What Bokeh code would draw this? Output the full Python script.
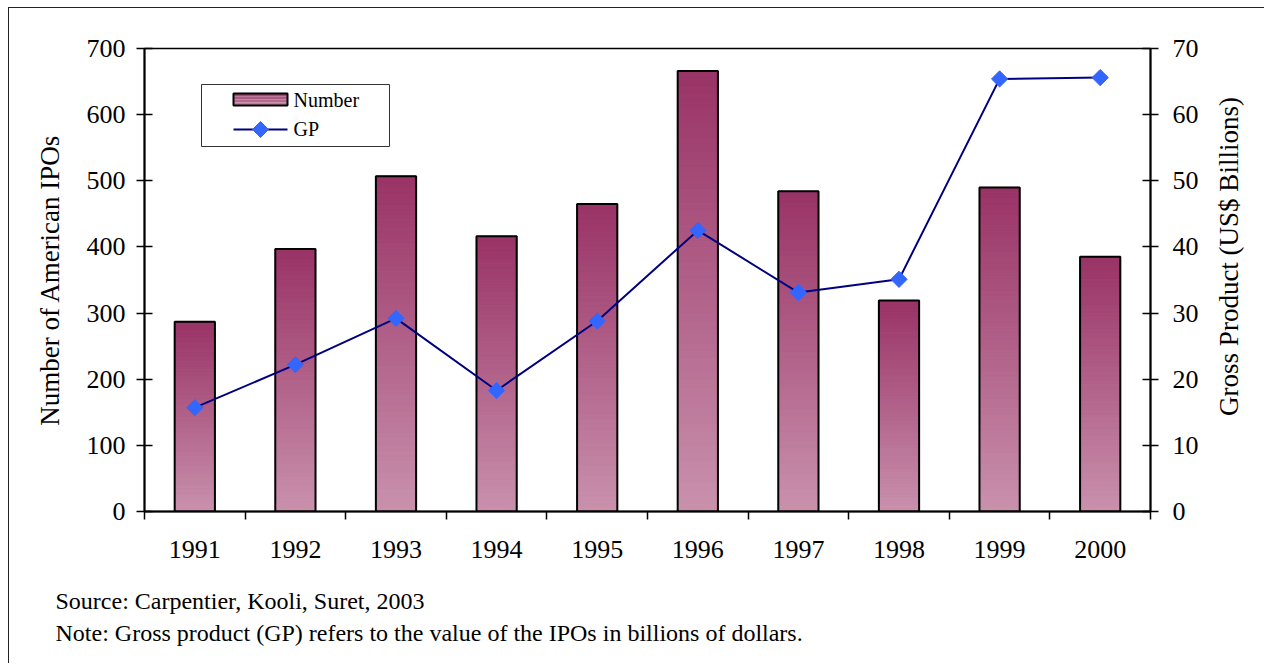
import math
from bokeh.plotting import figure
from bokeh.layouts import row, column
from bokeh.models import (Range1d, LinearAxis, FixedTicker, ColumnDataSource,
                          BoxAnnotation, PolyAnnotation, Label)
from bokeh.embed import file_html
from bokeh.resources import INLINE

# ---- data ----
years = ["1991", "1992", "1993", "1994", "1995", "1996", "1997", "1998", "1999", "2000"]
ipo_counts = [287, 397, 507, 416, 465, 666, 484, 319, 490, 385]
gp_values = [15.7, 22.2, 29.2, 18.3, 28.8, 42.5, 33.1, 35.1, 65.4, 65.6]
left_ticks = [0, 100, 200, 300, 400, 500, 600, 700]
right_ticks = [0, 10, 20, 30, 40, 50, 60, 70]
left_title = "Number of American IPOs"
right_title = "Gross Product (US$ Billions)"
legend_labels = ["Number", "GP"]
source_note = "Source: Carpentier, Kooli, Suret, 2003"
gp_note = "Note: Gross product (GP) refers to the value of the IPOs in billions of dollars."

FONT = "Liberation Serif"
TOP_COL = (153, 51, 102)
BOT_COL = (201, 145, 173)
N_SLICES = 60
H1 = 575      # chart canvas height
H3 = 80       # notes canvas height
S = "screen"

# category slot centres (slot i spans [i, i+1])
x_pos = [i + 0.5 for i in range(len(years))]

p = figure(width=1195, height=H1,
           x_range=Range1d(0, len(years)),
           y_range=Range1d(0, 700),
           x_axis_location=None, y_axis_location=None,
           toolbar_location=None, output_backend="svg",
           min_border_left=135, min_border_right=54,
           min_border_top=40, min_border_bottom=72)
p.extra_y_ranges = {"gp": Range1d(0, 70)}
for g in p.grid:
    g.visible = False
p.outline_line_color = "black"
p.outline_line_width = 1.5
p.background_fill_color = "white"
p.border_fill_color = "white"

# ---- gradient bars (each bar split into thin slices) ----
def grad(t):
    c = tuple(int(round(b * (1 - t) + tp * t)) for b, tp in zip(BOT_COL, TOP_COL))
    return "#%02x%02x%02x" % c

xs, bots, tops, cols = [], [], [], []
for xp, v in zip(x_pos, ipo_counts):
    for i in range(N_SLICES):
        xs.append(xp)
        bots.append(v * i / N_SLICES)
        tops.append(v * (i + 1) / N_SLICES)
        cols.append(grad((i + 0.5) / N_SLICES))
slices = ColumnDataSource(dict(x=xs, bottom=bots, top=tops, color=cols))
p.vbar(x="x", bottom="bottom", top="top", width=0.4, source=slices,
       fill_color="color", line_color="color", line_width=1)
bars = ColumnDataSource(dict(x=x_pos, top=ipo_counts))
p.vbar(x="x", top="top", bottom=0, width=0.4, source=bars,
       fill_color=None, line_color="black", line_width=2)

# ---- GP line ----
gp_src = ColumnDataSource(dict(x=x_pos, y=gp_values))
p.line(x="x", y="y", source=gp_src, y_range_name="gp",
       line_color="#000080", line_width=2)
p.scatter(x="x", y="y", source=gp_src, y_range_name="gp",
          marker="square", angle=math.pi / 4, size=11.5,
          fill_color="#3366ff", line_color="#3366ff")

# ---- axes ----
yl = LinearAxis(ticker=FixedTicker(ticks=left_ticks), axis_label=left_title)
yr = LinearAxis(y_range_name="gp", ticker=FixedTicker(ticks=right_ticks))
for ax, st in ((yl, 11), (yr, 14)):
    ax.major_tick_in = 8
    ax.major_tick_out = 8
    ax.minor_tick_line_color = None
    ax.major_tick_line_width = 1.5
    ax.axis_line_width = 2
    ax.major_label_standoff = st
    ax.major_label_text_font = FONT
    ax.major_label_text_font_size = "26px"
    ax.major_label_text_color = "black"
yl.axis_label_standoff = 19
yl.axis_label_text_font = FONT
yl.axis_label_text_font_size = "27px"
yl.axis_label_text_font_style = "normal"
yl.axis_label_text_color = "black"
p.add_layout(yl, "left")
p.add_layout(yr, "right")

bounds = list(range(len(years) + 1))
xb = LinearAxis(ticker=FixedTicker(ticks=x_pos, minor_ticks=bounds),
                major_label_overrides={c: y for c, y in zip(x_pos, years)})
xb.major_tick_line_color = None
xb.major_tick_in = 0
xb.major_tick_out = 8
xb.minor_tick_in = 0
xb.minor_tick_out = 8
xb.minor_tick_line_color = "black"
xb.minor_tick_line_width = 1.5
xb.axis_line_width = 2
xb.major_label_standoff = 21
xb.major_label_text_font = FONT
xb.major_label_text_font_size = "26px"
xb.major_label_text_color = "black"
p.add_layout(xb, "below")

# ---- legend (drawn by hand, positions relative to the plot frame) ----
n_sw = 4
for k in range(n_sw):
    p.add_layout(BoxAnnotation(left=89, right=143, bottom=406 + 12 * k / n_sw,
                               top=406 + 12 * (k + 1) / n_sw,
                               left_units=S, right_units=S, bottom_units=S, top_units=S,
                               fill_color=grad(0.15 + 0.7 * (k + 0.5) / n_sw), fill_alpha=1,
                               line_alpha=0))
p.add_layout(BoxAnnotation(left=89, right=143, bottom=406, top=418,
                           left_units=S, right_units=S, bottom_units=S, top_units=S,
                           fill_alpha=0, line_color="black", line_width=2, line_alpha=1))
p.add_layout(BoxAnnotation(left=57, right=245, bottom=365, top=427,
                           left_units=S, right_units=S, bottom_units=S, top_units=S,
                           fill_alpha=0, line_color="#333333", line_width=1, line_alpha=1))
p.add_layout(PolyAnnotation(xs=[89, 143], ys=[382, 382], xs_units=S, ys_units=S,
                            fill_alpha=0, line_color="#000080", line_width=2, line_alpha=1))
p.add_layout(PolyAnnotation(xs=[116, 124, 116, 108], ys=[390, 382, 374, 382],
                            xs_units=S, ys_units=S, fill_color="#3366ff", fill_alpha=1,
                            line_color="#3366ff", line_width=1, line_alpha=1))
for lab, yy in zip(legend_labels, (412, 383)):
    p.add_layout(Label(x=149, y=yy, x_units=S, y_units=S, text=lab,
                       text_align="left", text_baseline="middle",
                       text_font=FONT, text_font_size="20px", text_color="black"))


def blank(width, height):
    f = figure(width=width, height=height, toolbar_location=None, output_backend="svg",
               x_axis_location=None, y_axis_location=None,
               min_border_left=0, min_border_right=0, min_border_top=0, min_border_bottom=0)
    f.outline_line_color = None
    f.background_fill_color = "white"
    f.border_fill_color = "white"
    for g in f.grid:
        g.visible = False
    return f


# ---- right-hand title, in a narrow side canvas (reads bottom to top) ----
p2 = blank(60, H1)
p2.add_layout(Label(x=24, y=255, x_units=S, y_units=S, text=right_title,
                    angle=math.pi / 2, text_align="center", text_baseline="middle",
                    text_font=FONT, text_font_size="27px", text_color="black"))

# ---- notes, in a canvas below the chart ----
p3 = blank(1255, H3)
for txt, yy in ((source_note, 63), (gp_note, 31)):
    p3.add_layout(Label(x=46, y=yy, x_units=S, y_units=S, text=txt,
                        text_align="left", text_baseline="middle",
                        text_font=FONT, text_font_size="24px", text_color="black"))

layout = column(row(p, p2, spacing=0), p3, spacing=0)
layout.styles = {"margin-left": "8px", "margin-top": "7px",
                 "border-left": "1px solid #222", "border-top": "1px solid #222"}

open("out.html", "w").write(file_html(layout, INLINE))
